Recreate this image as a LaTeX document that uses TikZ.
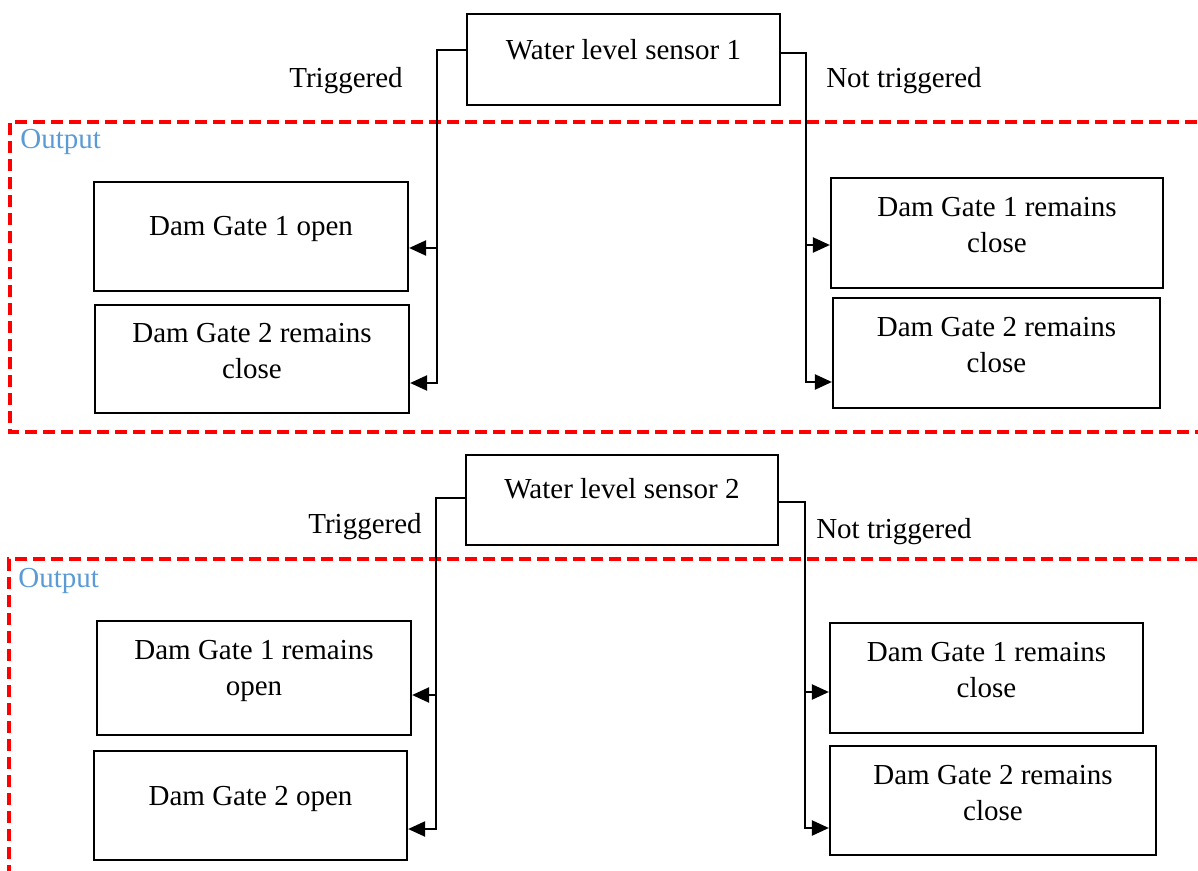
\documentclass[tikz,border=0pt]{standalone}
\usepackage{fontspec}
\setmainfont{Liberation Serif}
\usetikzlibrary{arrows.meta}
\definecolor{outblue}{HTML}{5B9BD5}
\definecolor{zonered}{HTML}{FF0000}
% text block whose first baseline sits #1 above the box centre
\newcommand\gatetext[2]{\raisebox{#1}[0pt][0pt]{\begin{tabular}[t]{@{}c@{}}#2\end{tabular}}}

\begin{document}
\begin{tikzpicture}[x=0.5pt,y=-0.5pt,
  every node/.style={font=\fontsize{14.5}{18}\selectfont},
  gate/.style={draw, line width=1.1pt, inner sep=0pt},
  caption/.style={anchor=base, inner sep=0pt},
  zonelabel/.style={anchor=base west, inner sep=0pt, text=outblue},
  zone/.style={draw=zonered, line width=1.7pt, dash pattern=on 6pt off 3pt},
  wire/.style={draw, line width=1.1pt},
  arr/.style={wire, -{Triangle[length=8.5pt,width=7.5pt]}}
]
\useasboundingbox (0,0) rectangle (1198,871);
\clip (0,0) rectangle (1198,871);

% ---------- sensor 1 ----------
\draw[zone] (1215,122) -- (10,122) -- (10,432) -- (1215,432);
\node[zonelabel] (out1) at (20,149) {Output};

\node[gate, minimum width=156.5pt, minimum height=45.5pt] (s1) at (623.5,59.5)
  {\gatetext{0pt}{Water level sensor 1}};

\node[gate, minimum width=157pt, minimum height=54.5pt] (l1) at (251,236.5)
  {\gatetext{0.25pt}{Dam Gate 1 open}};
\node[gate, minimum width=157pt, minimum height=54pt] (l2) at (252,359)
  {\gatetext{8.25pt}{Dam Gate 2 remains\\close}};
\node[gate, minimum width=166pt, minimum height=55pt] (r1) at (997,233)
  {\gatetext{8.25pt}{Dam Gate 1 remains\\close}};
\node[gate, minimum width=163.5pt, minimum height=55pt] (r2) at (996.5,353)
  {\gatetext{8.25pt}{Dam Gate 2 remains\\close}};

\node[caption] (t1) at (346,88) {Triggered};
\node[caption] (n1) at (904,88) {Not triggered};

\coordinate (jl1) at (437,50);
\coordinate (bl1) at (437,248);
\coordinate (el1) at (437,383);
\draw[arr] (s1.west |- jl1) -| (el1) -- (l2.east |- el1);
\draw[arr] (bl1) -- (l1.east |- bl1);

\coordinate (jr1) at (806,53);
\coordinate (br1) at (806,245);
\coordinate (er1) at (806,382);
\draw[arr] (s1.east |- jr1) -| (er1) -- (r2.west |- er1);
\draw[arr] (br1) -- (r1.west |- br1);

% ---------- sensor 2 ----------
\draw[zone] (1215,559) -- (9,559) -- (9,890);
\node[zonelabel] (out2) at (18,587) {Output};

\node[gate, minimum width=156pt, minimum height=45pt] (s2) at (622,500)
  {\gatetext{0.75pt}{Water level sensor 2}};

\node[gate, minimum width=157pt, minimum height=57pt] (bl1n) at (254,678)
  {\gatetext{9.25pt}{Dam Gate 1 remains\\open}};
\node[gate, minimum width=156.5pt, minimum height=54.5pt] (bl2n) at (250.5,805.5)
  {\gatetext{0pt}{Dam Gate 2 open}};
\node[gate, minimum width=156.5pt, minimum height=55pt] (br1n) at (986.5,678)
  {\gatetext{8.25pt}{Dam Gate 1 remains\\close}};
\node[gate, minimum width=163pt, minimum height=54.5pt] (br2n) at (993,800.5)
  {\gatetext{8pt}{Dam Gate 2 remains\\close}};

\node[caption] (t2) at (365,533) {Triggered};
\node[caption] (n2) at (894,538) {Not triggered};

\coordinate (jl2) at (436,498);
\coordinate (bl2) at (436,695);
\coordinate (el2) at (436,829);
\draw[arr] (s2.west |- jl2) -| (el2) -- (bl2n.east |- el2);
\draw[arr] (bl2) -- (bl1n.east |- bl2);

\coordinate (jr2) at (805,502);
\coordinate (br2) at (805,692);
\coordinate (er2) at (805,828);
\draw[arr] (s2.east |- jr2) -| (er2) -- (br2n.west |- er2);
\draw[arr] (br2) -- (br1n.west |- br2);
\end{tikzpicture}
\end{document}
